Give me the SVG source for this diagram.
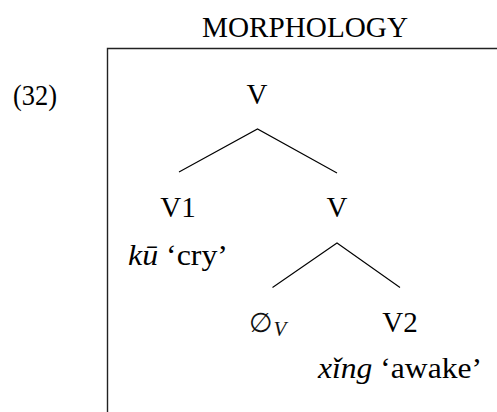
<svg xmlns="http://www.w3.org/2000/svg" width="497" height="412" viewBox="0 0 497 412">
<style>
text{font-family:"Liberation Serif","Times New Roman",serif;font-size:29px;fill:#000}
.it{font-style:italic}
.mid{text-anchor:middle}
.edge{stroke:#000;stroke-width:1.1;fill:none}
.frame{stroke:#222;stroke-width:1.4;fill:none}
</style>
<rect width="497" height="412" fill="#fff"/>
<text id="title" x="305" y="37" class="mid" font-size="28" textLength="206" lengthAdjust="spacingAndGlyphs">MORPHOLOGY</text>
<text id="exnum" x="13" y="105" textLength="44" lengthAdjust="spacingAndGlyphs">(32)</text>
<path class="frame" d="M107.5 412 V48.5 H497"/>
<g id="connectors">
<path class="edge" d="M179 172 L257.5 129 L337 173"/>
<path class="edge" d="M272.5 287.5 L337 243 L400 287.5"/>
</g>
<g id="n-root"><text x="257" y="104" class="mid">V</text></g>
<g id="n-v1"><text x="178" y="217" class="mid">V1</text><text x="178" y="265" class="mid" textLength="100" lengthAdjust="spacingAndGlyphs"><tspan class="it">kū</tspan> ‘cry’</text></g>
<g id="n-v"><text x="337" y="217" class="mid">V</text></g>
<g id="n-null"><text x="249" y="332" style="font-family:'DejaVu Sans',sans-serif;font-size:27px;fill:#111">∅<tspan class="it" style="font-size:21px;font-family:'Liberation Serif',serif" dx="1" dy="4">V</tspan></text></g>
<g id="n-v2"><text x="400" y="332" class="mid">V2</text><text x="400" y="378" class="mid" textLength="164" lengthAdjust="spacingAndGlyphs"><tspan class="it">xǐng</tspan> ‘awake’</text></g>
</svg>
